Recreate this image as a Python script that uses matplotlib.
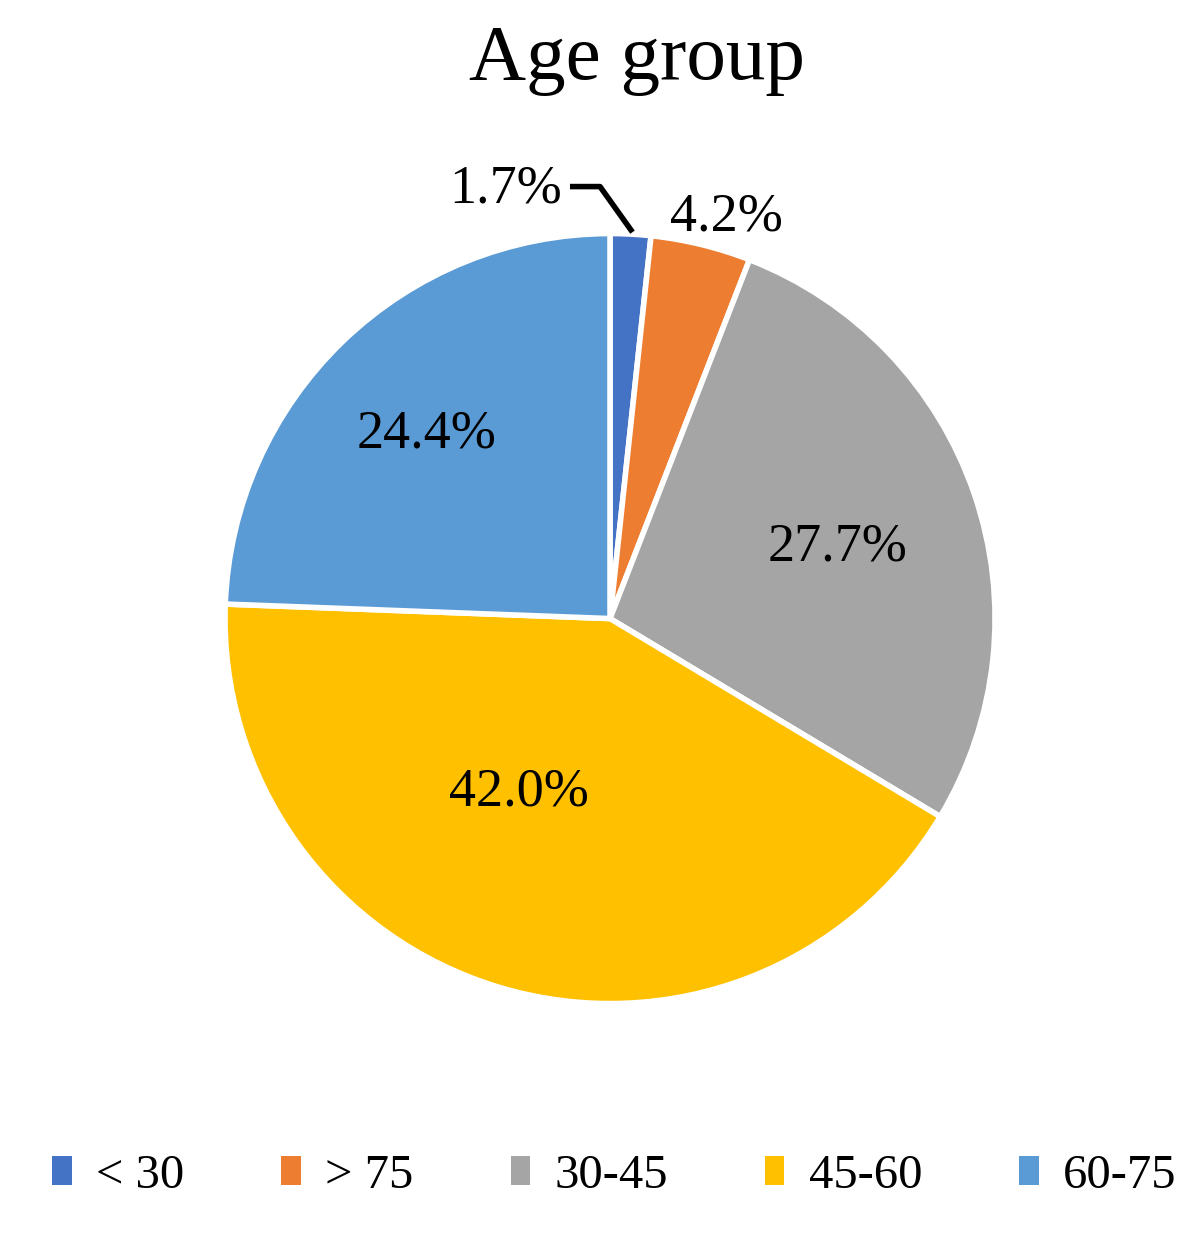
import numpy as np
import matplotlib
matplotlib.use("Agg")
import matplotlib.pyplot as plt
from matplotlib.patches import Patch

# Age group shares (%), clockwise from 12 o'clock
groups = ["< 30", "> 75", "30-45", "45-60", "60-75"]
shares = [1.7, 4.2, 27.7, 42.0, 24.4]
colors = ["#4472C4", "#ED7D31", "#A5A5A5", "#FFC000", "#5B9BD5"]

plt.rcParams["font.family"] = ["Liberation Serif", "DejaVu Serif"]

fig = plt.figure(figsize=(12, 12.39), dpi=100)
ax = fig.add_axes([0.1875, 0.190, 0.6417, 0.6215])

wedges, _ = ax.pie(shares, colors=colors, startangle=90, counterclock=False,
                   wedgeprops={"edgecolor": "white", "linewidth": 4})
ax.set_xlim(-1, 1)
ax.set_ylim(-1, 1)
ax.set_aspect("equal")
ax.axis("off")

# label radius / angle nudge per slice (Excel-like placement)
label_r = [None, 1.085, 0.62, 0.51, 0.675]
label_da = [0, -2.5, -1.5, -11, 1]
for w, val, r, da in zip(wedges, shares, label_r, label_da):
    mid = np.deg2rad((w.theta1 + w.theta2) / 2 + da)
    txt = f"{val:.1f}%"
    if r is None:
        # leader line for the tiny slice
        x0, y0 = np.cos(mid), np.sin(mid)
        ax.plot([x0 + 0.005, -0.026, -0.104], [y0 + 0.005, 1.122, 1.122],
                color="black", lw=4, clip_on=False, solid_capstyle="butt")
        ax.text(-0.125, 1.115, txt, ha="right", va="center", fontsize=39)
    else:
        ax.text(r * np.cos(mid), r * np.sin(mid), txt, ha="center",
                va="center", fontsize=39)

fig.text(0.531, 0.951, "Age group", ha="center", va="center", fontsize=57)

handles = [Patch(facecolor=c, edgecolor="none") for c in colors]
fig.legend(handles, groups, loc="center", bbox_to_anchor=(0.512, 0.051),
           ncol=5, frameon=False, fontsize=35, handlelength=0.4,
           handleheight=0.55, handletextpad=0.5, columnspacing=2.0)

fig.savefig("out.png", dpi=100, facecolor="white")
